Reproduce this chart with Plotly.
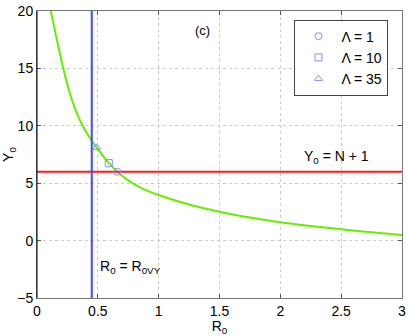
import plotly.graph_objects as go

# curve
r0_curve = [0.113, 0.167, 0.216, 0.25, 0.285, 0.325, 0.367, 0.41, 0.45, 0.49, 0.54, 0.59, 0.66, 0.75, 0.85,
            1.0, 1.25, 1.5, 1.75, 2.0, 2.25, 2.5, 2.75, 3.0]
y0_curve = [20.0, 17.3, 15.0, 13.57, 12.31, 11.15, 10.18, 9.36, 8.72, 8.12, 7.42, 6.77, 6.0, 5.24, 4.62,
            3.97, 3.15, 2.52, 2.02, 1.6, 1.27, 0.98, 0.72, 0.49]

# marked points
lam_labels = ['Λ = 1', 'Λ = 10', 'Λ = 35']
lam_r0 = [0.66, 0.59, 0.49]
lam_y0 = [6.0, 6.75, 8.1]
lam_symbols = ['circle-open', 'square-open', 'triangle-up-open']

r0vy = 0.45
n_plus_1 = 6.0
x_range = [0, 3]
y_range = [-5, 20]

fnt = 'Liberation Sans, Arial, sans-serif'

fig = go.Figure()
fig.add_trace(go.Scatter(x=r0_curve, y=y0_curve, mode='lines', line=dict(color='#66ee00', width=2, shape='spline'),
                         showlegend=False))
fig.add_trace(go.Scatter(x=x_range, y=[n_plus_1, n_plus_1], mode='lines', line=dict(color='#ff1a1a', width=2),
                         showlegend=False))
fig.add_trace(go.Scatter(x=[r0vy, r0vy], y=y_range, mode='lines', line=dict(color='#3a4bff', width=2),
                         showlegend=False))
for i in range(len(lam_labels)):
    fig.add_trace(go.Scatter(x=[lam_r0[i]], y=[lam_y0[i]], mode='markers', name=lam_labels[i],
                             marker=dict(symbol=lam_symbols[i], size=7, color='#8a8aff', line=dict(width=1))))

fig.add_annotation(x=1.36, y=18.3, text='(c)', showarrow=False, font=dict(size=13, color='black'))
fig.add_annotation(x=2.46, y=7.3, text='Y<sub>0</sub> = N + 1', showarrow=False, font=dict(size=14, color='black'))
fig.add_annotation(x=0.5, y=-2.3, text='R<sub>0</sub> = R<sub>0VY</sub>', showarrow=False, xanchor='left',
                   font=dict(size=14, color='black'))

# left spine is black in the original
fig.add_shape(type='line', xref='paper', yref='paper', x0=0, x1=0, y0=0, y1=1, line=dict(color='black', width=1))

fig.update_layout(
    width=409, height=336,
    margin=dict(l=37, r=7, t=11, b=38),
    plot_bgcolor='white', paper_bgcolor='white',
    font=dict(family=fnt, size=14, color='black'),
    legend=dict(x=0.963, y=0.97, xanchor='right', yanchor='top', bgcolor='white', itemwidth=36,
                bordercolor='#444', borderwidth=1, font=dict(size=14), tracegroupgap=0),
    xaxis=dict(range=x_range, dtick=0.5, showgrid=True, gridcolor='#cccccc', griddash='dot', zeroline=False,
               showline=True, linecolor='#777', mirror='ticks', ticks='inside', ticklen=4, tickcolor='#555',
               automargin=False, ticklabeloverflow='allow',
               title=dict(text='R<sub>0</sub>', standoff=0, font=dict(size=14))),
    yaxis=dict(range=y_range, dtick=5, showgrid=True, gridcolor='#cccccc', griddash='dot', zeroline=False,
               showline=True, linecolor='#777', mirror='ticks', ticks='inside', ticklen=4, tickcolor='#555',
               automargin=False, ticklabeloverflow='allow',
               title=dict(text='Y<sub>0</sub>', standoff=2, font=dict(size=14))),
)

# page body has a default margin, drop it so the figure sits at the window corner
fig.write_html("out.html", config={'displayModeBar': False},
               post_script="document.body.style.margin='0';document.body.style.overflow='hidden';")
